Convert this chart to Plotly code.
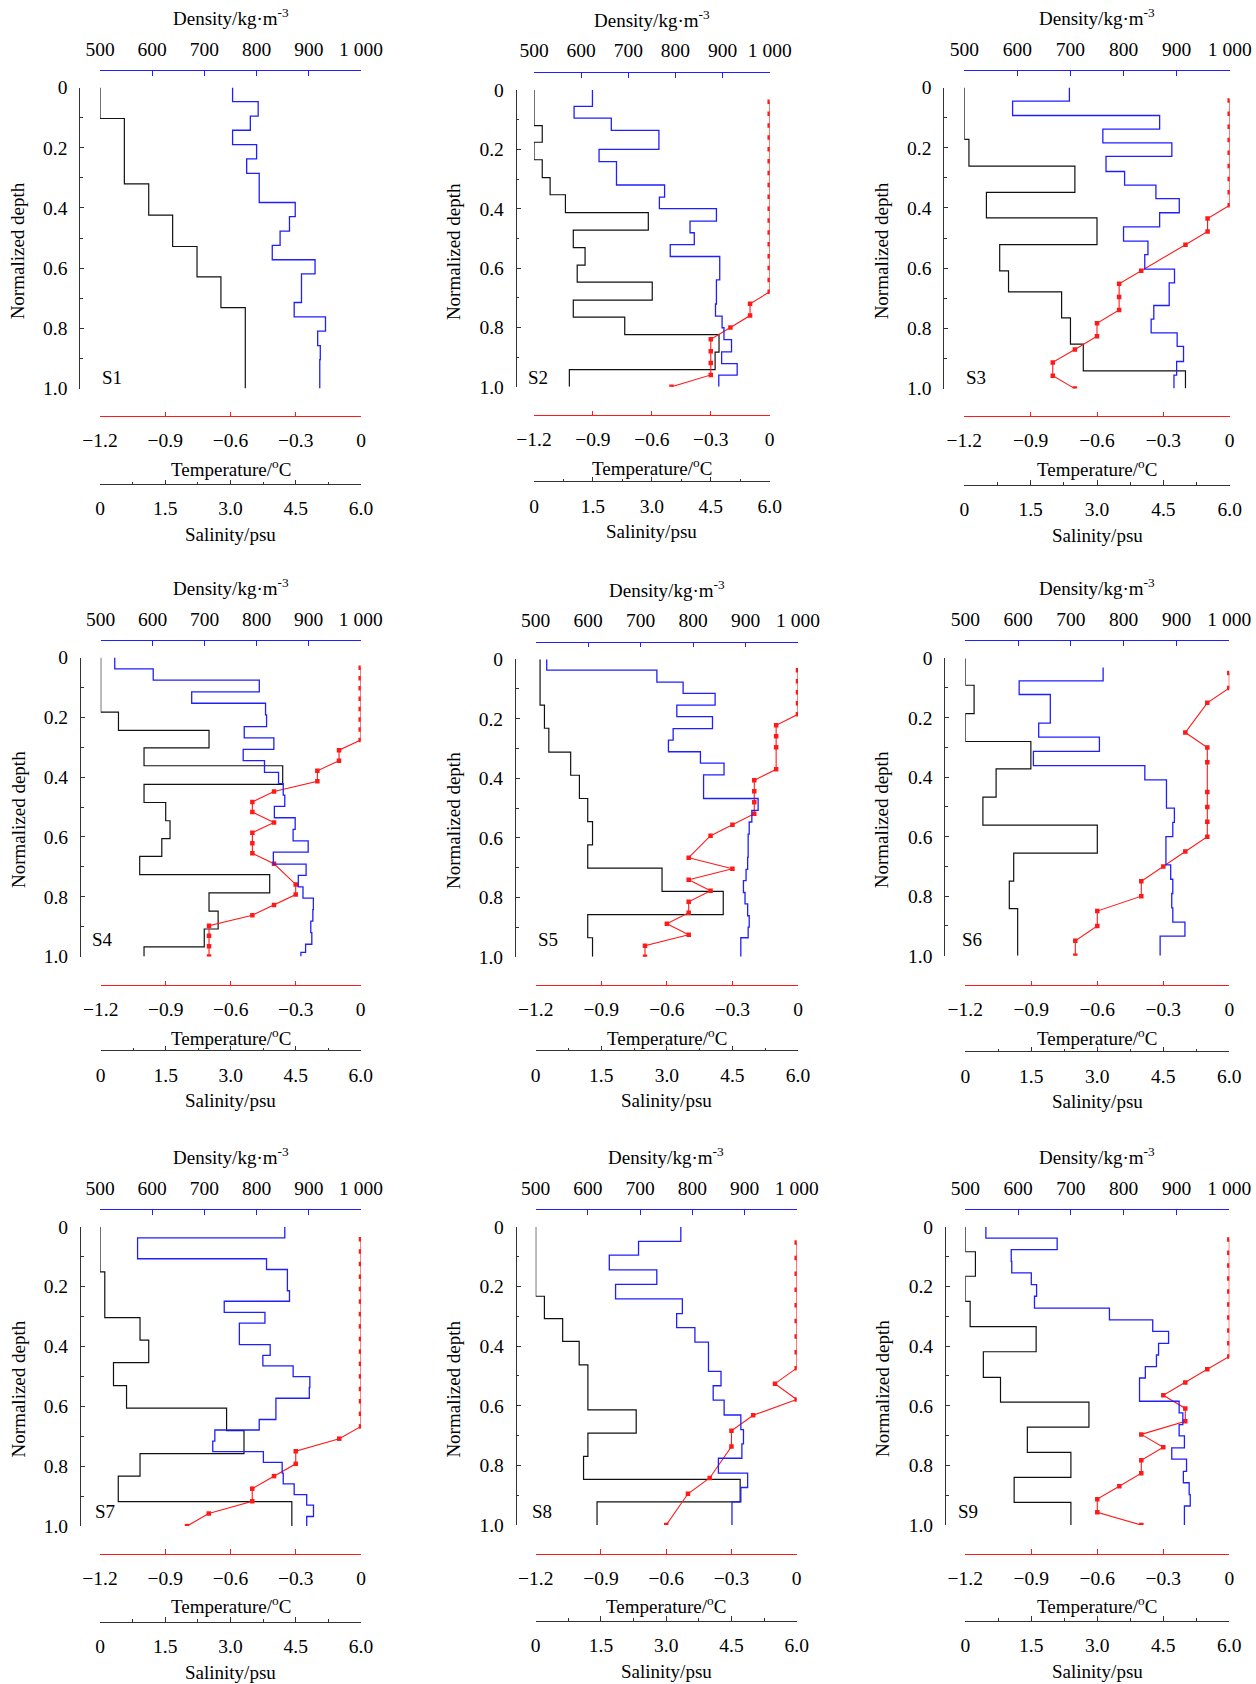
import plotly.graph_objects as go

# ---------------- data ----------------
station_names = ["S1", "S2", "S3", "S4", "S5", "S6", "S7", "S8", "S9"]

# salinity step profiles: layer boundaries (incl. bottom) and layer values (psu)
s1_sal_depth = [0, 0.103, 0.32, 0.424, 0.528, 0.629, 0.731, 1.0]
s1_sal = [0, 0.56, 1.12, 1.67, 2.23, 2.78, 3.34]
s2_sal_depth = [0, 0.12, 0.176, 0.235, 0.295, 0.353, 0.413, 0.472, 0.531, 0.59, 0.647, 0.708, 0.765, 0.824, 0.883, 0.942, 1.0]
s2_sal = [0, 0.21, 0, 0.21, 0.41, 0.8, 2.91, 1.0, 1.3, 1.1, 3.01, 1.0, 2.31, 4.71, 4.61, 0.9]
s3_sal_depth = [0, 0.172, 0.261, 0.348, 0.433, 0.522, 0.609, 0.679, 0.765, 0.852, 0.941, 1.0]
s3_sal = [0, 0.105, 2.5, 0.5, 3.0, 0.8, 1.0, 2.2, 2.4, 2.69, 5.0]
s4_sal_depth = [0, 0.183, 0.244, 0.302, 0.362, 0.424, 0.485, 0.546, 0.606, 0.665, 0.726, 0.787, 0.848, 0.908, 0.968, 1.0]
s4_sal = [0, 0.41, 2.5, 1.0, 4.2, 1.0, 1.5, 1.6, 1.41, 0.9, 3.9, 2.5, 2.71, 2.39, 1.0]
s5_sal_depth = [0, 0.154, 0.232, 0.312, 0.39, 0.468, 0.546, 0.624, 0.702, 0.78, 0.858, 0.936, 1.0]
s5_sal = [0.1, 0.2, 0.3, 0.8, 1.0, 1.19, 1.3, 1.19, 2.89, 4.29, 1.19, 1.3]
s6_sal_depth = [0, 0.091, 0.186, 0.28, 0.372, 0.467, 0.561, 0.655, 0.749, 0.842, 1.0]
s6_sal = [0, 0.2, 0, 1.49, 0.7, 0.4, 3.0, 1.1, 1.0, 1.19]
s7_sal_depth = [0, 0.151, 0.304, 0.379, 0.454, 0.531, 0.606, 0.681, 0.758, 0.833, 0.918, 1.0]
s7_sal = [0, 0.11, 0.92, 1.12, 0.31, 0.61, 2.91, 3.31, 0.92, 0.42, 4.41]
s8_sal_depth = [0, 0.233, 0.308, 0.384, 0.463, 0.614, 0.692, 0.77, 0.847, 0.922, 1.0]
s8_sal = [0, 0.2, 0.62, 1.0, 1.2, 2.31, 1.2, 1.1, 4.7, 1.41]
s9_sal_depth = [0, 0.084, 0.166, 0.25, 0.335, 0.419, 0.505, 0.588, 0.672, 0.756, 0.84, 0.924, 1.0]
s9_sal = [0, 0.23, 0, 0.11, 1.61, 0.41, 0.8, 2.81, 1.41, 2.4, 1.11, 2.4]

# density step profiles (kg/m3)
s1_den_depth = [0, 0.047, 0.095, 0.142, 0.19, 0.237, 0.285, 0.382, 0.429, 0.477, 0.524, 0.572, 0.619, 0.714, 0.762, 0.809, 0.857, 0.904, 1.0]
s1_den = [754, 803, 788, 754, 800, 781, 805, 874, 863, 845, 830, 912, 886, 872, 932, 917, 922, 921]
s2_den_depth = [0, 0.055, 0.095, 0.136, 0.2, 0.241, 0.32, 0.361, 0.4, 0.442, 0.481, 0.521, 0.561, 0.64, 0.721, 0.762, 0.801, 0.841, 0.882, 0.922, 0.961, 1.0]
s2_den = [624, 585, 664, 765, 638, 675, 777, 766, 887, 831, 840, 789, 894, 887, 885, 899, 903, 919, 898, 931, 892]
s3_den_depth = [0, 0.045, 0.093, 0.138, 0.184, 0.229, 0.279, 0.324, 0.369, 0.416, 0.463, 0.51, 0.555, 0.603, 0.649, 0.724, 0.769, 0.815, 0.86, 0.91, 0.955, 1.0]
s3_den = [698, 591, 868, 761, 891, 767, 802, 861, 905, 868, 800, 846, 840, 896, 886, 857, 852, 901, 913, 900, 895]
s4_den_depth = [0, 0.038, 0.076, 0.115, 0.153, 0.192, 0.231, 0.269, 0.307, 0.345, 0.384, 0.422, 0.46, 0.498, 0.536, 0.575, 0.613, 0.651, 0.691, 0.729, 0.767, 0.805, 0.843, 0.882, 0.92, 0.959, 0.986, 1.0]
s4_den = [527, 601, 805, 675, 817, 819, 776, 833, 774, 815, 842, 851, 854, 834, 874, 870, 899, 832, 895, 880, 889, 909, 908, 904, 906, 894, 885]
s5_den_depth = [0, 0.037, 0.077, 0.115, 0.154, 0.193, 0.233, 0.272, 0.311, 0.349, 0.389, 0.468, 0.508, 0.547, 0.588, 0.666, 0.706, 0.744, 0.784, 0.822, 0.862, 0.9, 0.936, 1.0]
s5_den = [521, 731, 781, 842, 769, 837, 762, 753, 814, 859, 820, 924, 912, 907, 905, 904, 901, 896, 899, 904, 907, 905, 891]
s6_den_depth = [0.031, 0.076, 0.122, 0.218, 0.265, 0.313, 0.361, 0.409, 0.504, 0.552, 0.6, 0.695, 0.743, 0.791, 0.839, 0.887, 0.934, 1.0]
s6_den = [761, 602, 661, 639, 754, 629, 840, 881, 896, 893, 880, 889, 893, 891, 893, 916, 869]
s7_den_depth = [0, 0.037, 0.107, 0.143, 0.214, 0.249, 0.286, 0.322, 0.394, 0.43, 0.465, 0.501, 0.537, 0.573, 0.644, 0.679, 0.716, 0.751, 0.787, 0.823, 0.859, 0.895, 0.93, 0.968, 1.0]
s7_den = [854, 572, 819, 859, 863, 738, 816, 767, 826, 812, 870, 902, 901, 837, 805, 720, 716, 813, 849, 851, 872, 896, 909, 896]
s8_den_depth = [0, 0.049, 0.095, 0.145, 0.193, 0.242, 0.291, 0.338, 0.387, 0.485, 0.533, 0.581, 0.631, 0.68, 0.728, 0.776, 0.826, 0.874, 0.922, 1.0]
s8_den = [778, 697, 641, 732, 653, 781, 770, 805, 831, 855, 840, 861, 893, 898, 895, 850, 906, 893, 876]
s9_den_depth = [0, 0.038, 0.077, 0.116, 0.155, 0.194, 0.233, 0.273, 0.312, 0.351, 0.391, 0.43, 0.469, 0.507, 0.585, 0.624, 0.663, 0.701, 0.741, 0.779, 0.82, 0.858, 0.898, 0.936, 1.0]
s9_den = [539, 674, 587, 588, 625, 635, 631, 773, 855, 885, 866, 862, 841, 830, 905, 912, 905, 915, 891, 919, 913, 924, 926, 915]

# temperature samples (degC)
s1_tmp_depth = []
s1_tmp = []
s2_tmp_depth = [0.04, 0.08, 0.12, 0.16, 0.2, 0.24, 0.28, 0.32, 0.36, 0.4, 0.44, 0.48, 0.52, 0.56, 0.6, 0.64, 0.68,
                0.72, 0.76, 0.8, 0.84, 0.88, 0.92, 0.96, 1.0]
s2_tmp = [0, 0, 0, 0, 0, 0, 0, 0, 0, 0, 0, 0, 0, 0, 0, 0, 0,
          -0.1, -0.1, -0.2, -0.3, -0.3, -0.3, -0.3, -0.5]
s3_tmp_depth = [0.043, 0.087, 0.13, 0.174, 0.217, 0.261, 0.304, 0.348, 0.391,
                0.435, 0.478, 0.522, 0.609, 0.652, 0.696, 0.739, 0.783, 0.826, 0.87, 0.913, 0.957, 1.0]
s3_tmp = [0, 0, 0, 0, 0, 0, 0, 0, 0,
          -0.1, -0.1, -0.2, -0.4, -0.5, -0.5, -0.5, -0.6, -0.6, -0.7, -0.8, -0.8, -0.7]
s4_tmp_depth = [0.034, 0.069, 0.103, 0.138, 0.172, 0.207, 0.241, 0.276,
                0.31, 0.345, 0.379, 0.414, 0.448, 0.483, 0.517, 0.552, 0.586, 0.621, 0.655, 0.69,
                0.759, 0.793, 0.828, 0.862, 0.897, 0.931, 0.966, 1.0]
s4_tmp = [0, 0, 0, 0, 0, 0, 0, 0,
          -0.1, -0.1, -0.2, -0.2, -0.4, -0.5, -0.5, -0.4, -0.5, -0.5, -0.5, -0.4,
          -0.3, -0.3, -0.4, -0.5, -0.7, -0.7, -0.7, -0.7]
s5_tmp_depth = [0.037, 0.074, 0.111, 0.148, 0.185,
                0.222, 0.259, 0.296, 0.37, 0.407, 0.444, 0.481, 0.519, 0.556, 0.593,
                0.667, 0.704, 0.741, 0.778, 0.815, 0.852, 0.889, 0.926, 0.963, 1.0]
s5_tmp = [0, 0, 0, 0, 0,
          -0.1, -0.1, -0.1, -0.1, -0.2, -0.2, -0.2, -0.2, -0.3, -0.4,
          -0.5, -0.3, -0.5, -0.4, -0.5, -0.5, -0.6, -0.5, -0.7, -0.7]
s6_tmp_depth = [0.05, 0.1, 0.15, 0.25, 0.3, 0.35, 0.45, 0.5, 0.55, 0.6, 0.65, 0.7, 0.75, 0.8, 0.85, 0.9, 0.95, 1.0]
s6_tmp = [0, 0, -0.1, -0.2, -0.1, -0.1, -0.1, -0.1, -0.1, -0.1, -0.2, -0.3, -0.4, -0.4, -0.6, -0.6, -0.7, -0.7]
s7_tmp_depth = [0.042, 0.083, 0.125, 0.167, 0.208, 0.25, 0.292, 0.333, 0.375, 0.417, 0.458, 0.5, 0.542, 0.583, 0.625, 0.667,
                0.708, 0.75, 0.792, 0.833, 0.875, 0.917, 0.958, 1.0]
s7_tmp = [0, 0, 0, 0, 0, 0, 0, 0, 0, 0, 0, 0, 0, 0, 0, 0,
          -0.1, -0.3, -0.3, -0.4, -0.5, -0.5, -0.7, -0.8]
s8_tmp_depth = [0.053, 0.105, 0.158, 0.211, 0.263, 0.316, 0.368, 0.421, 0.474,
                0.526, 0.579, 0.632, 0.684, 0.737, 0.842, 0.895, 1.0]
s8_tmp = [0, 0, 0, 0, 0, 0, 0, 0, 0,
          -0.1, 0, -0.2, -0.3, -0.3, -0.4, -0.5, -0.6]
s9_tmp_depth = [0.043, 0.087, 0.13, 0.174, 0.217, 0.261, 0.304, 0.348, 0.391, 0.435,
                0.478, 0.522, 0.565, 0.609, 0.652, 0.696, 0.739, 0.783, 0.826, 0.87, 0.913, 0.957, 1.0]
s9_tmp = [0, 0, 0, 0, 0, 0, 0, 0, 0, 0,
          -0.1, -0.2, -0.3, -0.2, -0.2, -0.4, -0.3, -0.4, -0.4, -0.5, -0.6, -0.6, -0.4]

sal_profiles = [(s1_sal_depth, s1_sal), (s2_sal_depth, s2_sal), (s3_sal_depth, s3_sal),
                (s4_sal_depth, s4_sal), (s5_sal_depth, s5_sal), (s6_sal_depth, s6_sal),
                (s7_sal_depth, s7_sal), (s8_sal_depth, s8_sal), (s9_sal_depth, s9_sal)]
den_profiles = [(s1_den_depth, s1_den), (s2_den_depth, s2_den), (s3_den_depth, s3_den),
                (s4_den_depth, s4_den), (s5_den_depth, s5_den), (s6_den_depth, s6_den),
                (s7_den_depth, s7_den), (s8_den_depth, s8_den), (s9_den_depth, s9_den)]
tmp_profiles = [(s1_tmp_depth, s1_tmp), (s2_tmp_depth, s2_tmp), (s3_tmp_depth, s3_tmp),
                (s4_tmp_depth, s4_tmp), (s5_tmp_depth, s5_tmp), (s6_tmp_depth, s6_tmp),
                (s7_tmp_depth, s7_tmp), (s8_tmp_depth, s8_tmp), (s9_tmp_depth, s9_tmp)]

depth_ticks = [0, 0.2, 0.4, 0.6, 0.8, 1.0]
depth_ticktext = ["0", "0.2", "0.4", "0.6", "0.8", "1.0"]
depth_minor = [0.1, 0.3, 0.5, 0.7, 0.9]
den_ticks = [500, 600, 700, 800, 900, 1000]
den_ticktext = ["500", "600", "700", "800", "900", "1 000"]
tmp_ticks = [-1.2, -0.9, -0.6, -0.3, 0]
tmp_ticktext = ["\u22121.2", "\u22120.9", "\u22120.6", "\u22120.3", "0"]
sal_ticks = [0, 1.5, 3.0, 4.5, 6.0]
sal_ticktext = ["0", "1.5", "3.0", "4.5", "6.0"]
sal_minor = [0.75, 2.25, 3.75, 5.25]

# ---------------- layout geometry (pixels) ----------------
W, H = 1256, 1684
# x0/x1: plot left/right, y0/y1: plot top/bottom, yax: y-axis line x,
# den/tmp/sal: y of the horizontal axis lines, lab/laby: station label position
panels = [
    dict(x0=100, x1=361, y0=87.5, y1=388.6, yax=79.3, den=70.4, tmp=416.0, sal=484.0, lab=112, laby=378),
    dict(x0=534, x1=769.7, y0=90, y1=386.8, yax=515.7, den=72.1, tmp=415.0, sal=481.4, lab=538, laby=378),
    dict(x0=964.3, x1=1229.7, y0=87.5, y1=388.6, yax=943.3, den=70.4, tmp=416.0, sal=484.6, lab=976, laby=378),
    dict(x0=100.7, x1=360.7, y0=657.5, y1=956.5, yax=80, den=640.4, tmp=985.0, sal=1050.3, lab=102, laby=939.6),
    dict(x0=535.7, x1=798, y0=659.2, y1=956.8, yax=515, den=641.5, tmp=985.0, sal=1050.3, lab=548, laby=939.6),
    dict(x0=965.3, x1=1229.3, y0=658.2, y1=955.7, yax=944.3, den=640.4, tmp=985.0, sal=1051.1, lab=972, laby=939.6),
    dict(x0=100, x1=361, y0=1226.7, y1=1526.1, yax=80, den=1209.4, tmp=1553.5, sal=1621.6, lab=105, laby=1511.3),
    dict(x0=535.7, x1=796.7, y0=1226.7, y1=1525.1, yax=515.7, den=1209.4, tmp=1553.5, sal=1620.5, lab=542, laby=1511.3),
    dict(x0=965.3, x1=1229.3, y0=1226.7, y1=1525.1, yax=945, den=1209.4, tmp=1553.5, sal=1620.5, lab=968, laby=1511.3),
]

FONT = "Liberation Serif"
FS_TICK = 19.5
FS_TITLE = 19
BLUE = "#1f1fff"
RED = "#ff1a1a"
BLACK = "#111111"
AXGREY = "#333333"


def fx(px):
    return px / W


def fy(py):
    return 1 - py / H


fig = go.Figure()
layout = {}
annotations = []

for i, p in enumerate(panels):
    ns, nt, nd = 3 * i + 1, 3 * i + 2, 3 * i + 3
    xs = "x" if ns == 1 else f"x{ns}"
    xt, xd = f"x{nt}", f"x{nd}"
    yy = "y" if i == 0 else f"y{i + 1}"

    sd, sv = sal_profiles[i]
    fig.add_trace(go.Scatter(x=list(sv) + [sv[-1]], y=sd, xaxis=xs, yaxis=yy, mode="lines",
                             line=dict(color=BLACK, width=1.2, shape="vh"), showlegend=False,
                             name="Salinity"))
    dd, dv = den_profiles[i]
    fig.add_trace(go.Scatter(x=list(dv) + [dv[-1]], y=dd, xaxis=xd, yaxis=yy, mode="lines",
                             line=dict(color=BLUE, width=1.3, shape="vh"), showlegend=False,
                             name="Density"))
    td, tv = tmp_profiles[i]
    fig.add_trace(go.Scatter(x=list(tv) if tv else [None], y=list(td) if td else [None],
                             xaxis=xt, yaxis=yy, mode="lines+markers",
                             line=dict(color=RED, width=1.1),
                             marker=dict(symbol="square", size=4.5, color=RED),
                             showlegend=False, name="Temperature"))

    dom = [fx(p["x0"]), fx(p["x1"])]
    common = dict(domain=dom, anchor="free", showgrid=False, zeroline=False, showline=True,
                  linewidth=1, ticks="inside", tickwidth=1, ticklen=4.5, automargin=False,
                  tickfont=dict(family=FONT, size=FS_TICK, color="black"), fixedrange=True)
    layout["xaxis" if ns == 1 else f"xaxis{ns}"] = dict(
        common, position=fy(p["sal"]), side="bottom", range=[0, 6], tickmode="array",
        tickvals=sal_ticks, ticktext=sal_ticktext, linecolor=AXGREY, tickcolor=AXGREY,
        ticklabelstandoff=7,
        minor=dict(tickvals=sal_minor, ticks="inside", ticklen=2.5, tickcolor=AXGREY))
    layout[f"xaxis{nt}"] = dict(
        common, position=fy(p["tmp"]), side="bottom", overlaying=xs, range=[-1.2, 0],
        tickmode="array", tickvals=tmp_ticks, ticktext=tmp_ticktext, linecolor=RED,
        tickcolor=RED, ticklabelstandoff=7)
    layout[f"xaxis{nd}"] = dict(
        common, position=fy(p["den"]), side="top", overlaying=xs, range=[500, 1000],
        tickmode="array", tickvals=den_ticks, ticktext=den_ticktext, linecolor=BLUE,
        tickcolor=BLUE, ticklabelstandoff=7)
    layout["yaxis" if i == 0 else f"yaxis{i + 1}"] = dict(
        domain=[fy(p["y1"]), fy(p["y0"])], anchor="free", position=fx(p["yax"]),
        range=[1, 0], showgrid=False, zeroline=False, showline=True, linewidth=1,
        linecolor=AXGREY, ticks="inside", ticklen=4, tickcolor=AXGREY, tickmode="array",
        tickvals=depth_ticks, ticktext=depth_ticktext, ticklabelstandoff=8, automargin=False,
        tickfont=dict(family=FONT, size=FS_TICK, color="black"), fixedrange=True,
        minor=dict(tickvals=depth_minor, ticks="inside", ticklen=2.5, tickcolor=AXGREY))

    cx = (p["x0"] + p["x1"]) / 2
    tfont = dict(family=FONT, size=FS_TITLE, color="black")
    annotations.append(dict(text="Density/kg·m<sup>-3</sup>", x=fx(cx), y=fy(p["den"] - 53),
                            xref="paper", yref="paper", showarrow=False, font=tfont,
                            xanchor="center", yanchor="middle"))
    annotations.append(dict(text="Temperature/<sup>o</sup>C", x=fx(cx), y=fy(p["tmp"] + 51.5),
                            xref="paper", yref="paper", showarrow=False, font=tfont,
                            xanchor="center", yanchor="middle"))
    annotations.append(dict(text="Salinity/psu", x=fx(cx), y=fy(p["sal"] + 50.5),
                            xref="paper", yref="paper", showarrow=False, font=tfont,
                            xanchor="center", yanchor="middle"))
    annotations.append(dict(text="Normalized depth", x=fx(p["yax"] - 62),
                            y=fy((p["y0"] + p["y1"]) / 2 + 13), xref="paper", yref="paper",
                            showarrow=False, font=tfont, textangle=-90,
                            xanchor="center", yanchor="middle"))
    annotations.append(dict(text=station_names[i], x=fx(p["lab"]), y=fy(p["laby"]),
                            xref="paper", yref="paper", showarrow=False, font=tfont,
                            xanchor="center", yanchor="middle"))

fig.update_layout(
    template="none",
    width=W, height=H, margin=dict(l=0, r=0, t=0, b=0, pad=0, autoexpand=False),
    paper_bgcolor="white", plot_bgcolor="white", showlegend=False,
    font=dict(family=FONT, size=FS_TITLE, color="black"),
    annotations=annotations, **layout)

fig.write_html("out.html")
